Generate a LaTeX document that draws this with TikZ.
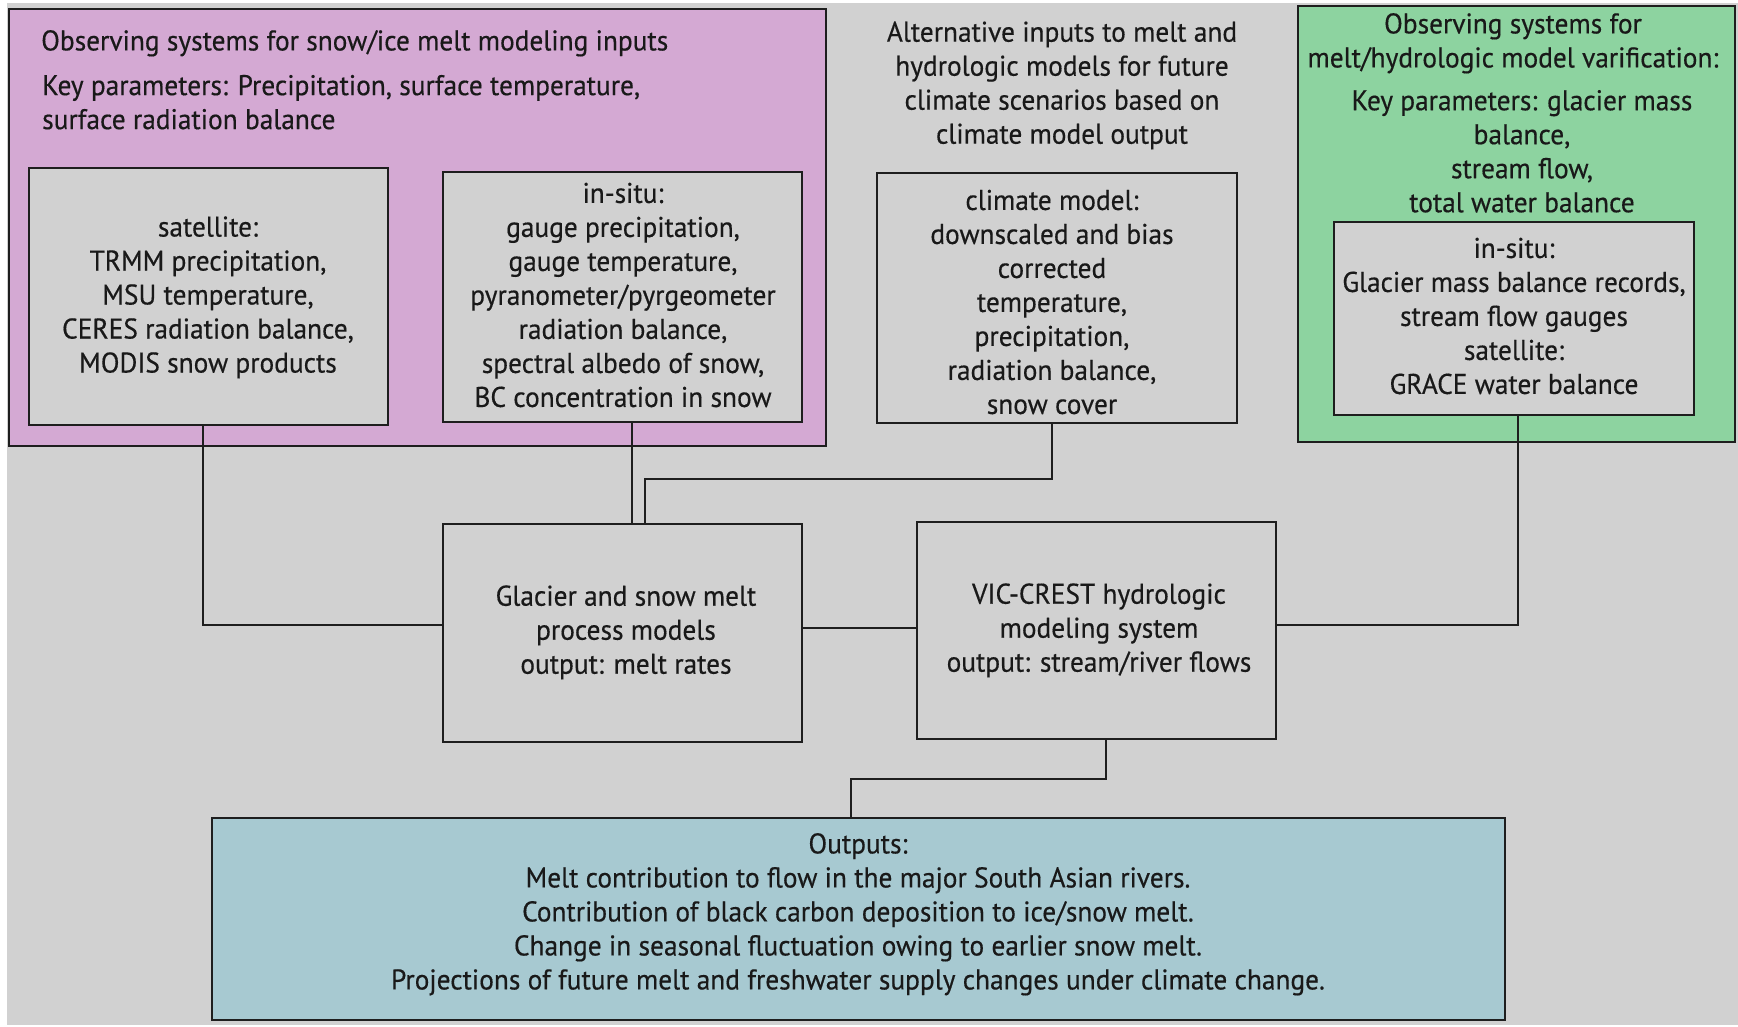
\documentclass[tikz,border=0pt]{standalone}
\usepackage{fontspec}
\setmainfont[FakeStretch=0.96,FakeBold=0.4]{PT Sans}
\definecolor{bggray}{RGB}{209,209,209}
\definecolor{pinkbox}{RGB}{212,169,211}
\definecolor{greenbox}{RGB}{141,211,160}
\definecolor{bluebox}{RGB}{167,201,209}
\definecolor{edge}{RGB}{30,30,30}
\tikzset{
  txt/.style={inner sep=0pt, align=center, font=\fontsize{28.5}{34}\selectfont, text=black!90},
  frame/.style={draw=edge, line width=2.8pt, inner sep=0pt},
  conn/.style={draw=edge, line width=2.5pt}
}
\begin{document}
\begin{tikzpicture}[x=1pt,y=-1pt]
\useasboundingbox (0,0) rectangle (1738,1026);
\fill[white] (0,0) rectangle (1738,1026);
\fill[bggray] (7,3) rectangle (1738,1025);

% pink group
\node[frame, fill=pinkbox, minimum width=817, minimum height=437] (pink) at (417.5,227.5) {};
\node[txt, anchor=west] (pinkt) at (41,43.3) {Observing systems for snow/ice melt modeling inputs};
\node[txt, anchor=west, align=left] (pinkk) at (42,102.2) {Key parameters: Precipitation, surface temperature,\\surface radiation balance};
\node[frame, fill=bggray, minimum width=359, minimum height=257] (sat) at (208.5,296.5) {};
\node[txt] (satt) at (208,297.3) {satellite:\\TRMM precipitation,\\MSU temperature,\\CERES radiation balance,\\MODIS snow products};
\node[frame, fill=bggray, minimum width=359, minimum height=250] (ins) at (622.5,297) {};
\node[txt] (inst) at (623,295) {in-situ:\\gauge precipitation,\\gauge temperature,\\pyranometer/pyrgeometer\\radiation balance,\\spectral albedo of snow,\\BC concentration in snow};

% alternative inputs
\node[txt] (altt) at (1062,85.4) {Alternative inputs to melt and\\hydrologic models for future\\climate scenarios based on\\climate model output};
\node[frame, fill=bggray, minimum width=360, minimum height=250] (clim) at (1057,298) {};
\node[txt] (climt) at (1052,302) {climate model:\\downscaled and bias\\corrected\\temperature,\\precipitation,\\radiation balance,\\snow cover};

% green group
\node[frame, fill=greenbox, minimum width=437, minimum height=436] (green) at (1516.5,224) {};
\node[txt] (greent) at (1513,43.3) {Observing systems for\\melt/hydrologic model varification:};
\node[txt] (greenk) at (1522,151.3) {Key parameters: glacier mass\\balance,\\stream flow,\\total water balance};
\node[frame, fill=bggray, minimum width=360, minimum height=193] (gin) at (1514,318.5) {};
\node[txt] (gint) at (1514,316) {in-situ:\\Glacier mass balance records,\\stream flow gauges\\satellite:\\GRACE water balance};

% models
\node[frame, fill=bggray, minimum width=359, minimum height=218] (glac) at (622.5,633) {};
\node[txt] (glact) at (626,632.4) {Glacier and snow melt\\process models\\output: melt rates};
\node[frame, fill=bggray, minimum width=359, minimum height=217] (vic) at (1096.5,630.5) {};
\node[txt] (vict) at (1099,630.4) {VIC-CREST hydrologic\\modeling system\\output: stream/river flows};

% outputs
\node[frame, fill=bluebox, minimum width=1293, minimum height=202] (out) at (858.5,919) {};
\node[txt] (outt) at (858,914.3) {Outputs:\\Melt contribution to flow in the major South Asian rivers.\\Contribution of black carbon deposition to ice/snow melt.\\Change in seasonal fluctuation owing to earlier snow melt.\\Projections of future melt and freshwater supply changes under climate change.};

% connectors
\draw[conn] ([xshift=-5.5pt]sat.south) |- ([yshift=8pt]glac.west);
\coordinate (c1) at ([xshift=9.5pt]ins.south);
\draw[conn] (c1) -- (c1 |- glac.north);
\coordinate (c2) at ([xshift=-5pt]clim.south);
\coordinate (c3) at (645,479);
\draw[conn] (c2) |- (c3) -- (c3 |- glac.north);
\coordinate (c4) at ([yshift=5pt]glac.east);
\draw[conn] (c4) -- (c4 -| vic.west);
\coordinate (c5) at ([xshift=4pt]gin.south);
\draw[conn] (c5) |- ([yshift=5.5pt]vic.east);
\coordinate (c6) at ([xshift=9.5pt]vic.south);
\coordinate (c7) at (851,779);
\draw[conn] (c6) |- (c7) -- (c7 |- out.north);
\end{tikzpicture}
\end{document}
